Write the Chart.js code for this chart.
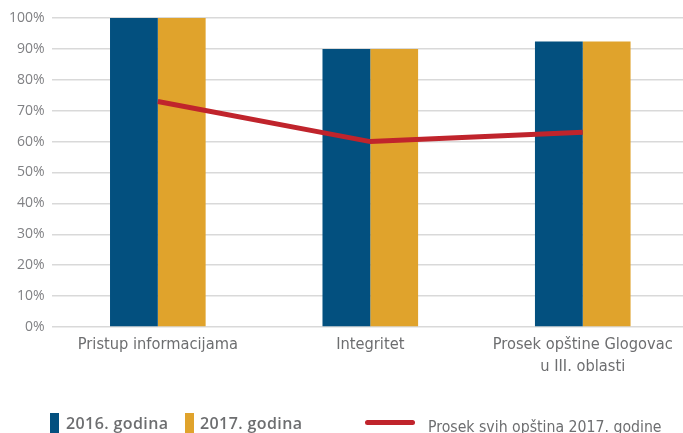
<!DOCTYPE html>
<html>
<head>
<meta charset="utf-8">
<script src="https://cdn.jsdelivr.net/npm/chart.js@4"></script>
<style>
html,body{margin:0;padding:0;background:#fff;}
#wrap{position:relative;width:683px;height:433px;overflow:hidden;}
#chart{position:absolute;left:0;top:0;}
.lg{position:absolute;white-space:nowrap;color:#6d6e70;}
.sw{position:absolute;}
</style>
</head>
<body>
<div id="wrap">
<canvas id="chart" width="689" height="433"></canvas>
<div class="sw" style="left:50px;top:413px;width:9px;height:20px;background:#03507f"></div>
<div class="lg" style="left:66px;top:412px;font:600 16px 'Open Sans',sans-serif;letter-spacing:0.4px">2016. godina</div>
<div class="sw" style="left:185px;top:413px;width:9px;height:20px;background:#e0a32c"></div>
<div class="lg" style="left:200px;top:412px;font:600 16px 'Open Sans',sans-serif;letter-spacing:0.4px">2017. godina</div>
<div class="sw" style="left:365px;top:420px;width:50px;height:5px;border-radius:3px;background:#c0242c"></div>
<div class="lg" id="lineLegend" style="left:428px;line-height:1">Prosek svih opština 2017. godine</div>
</div>
<script>
const categories = ["Pristup informacijama", "Integritet", ["Prosek opštine Glogovac", "u III. oblasti"]];
const values2016 = [100, 90, 92.4];
const values2017 = [100, 90, 92.4];
const averageAll = [73, 60, 63];
const yTicks = [0, 10, 20, 30, 40, 50, 60, 70, 80, 90, 100];

const condFont = "'DejaVu Sans Condensed','Liberation Sans Narrow',sans-serif";

// pick a font size so the condensed text is about as wide as in the picture
const mctx = document.createElement("canvas").getContext("2d");
function fitSize(text, family, width){
  mctx.font = "100px " + family;
  return Math.round(100 * width / mctx.measureText(text).width * 10) / 10;
}
const xSize = fitSize("Pristup informacijama", condFont, 160);
const lgSize = fitSize("Prosek svih opština 2017. godine", condFont, 234);

const lineLegend = document.getElementById("lineLegend");
lineLegend.style.fontFamily = condFont;
lineLegend.style.fontSize = lgSize + "px";
lineLegend.style.top = (432 - 0.85 * lgSize) + "px";

new Chart(document.getElementById("chart"), {
  type: "bar",
  data: {
    labels: categories,
    datasets: [
      {
        type: "line",
        label: "Prosek svih opština 2017. godine",
        data: averageAll,
        borderColor: "#c0242c",
        borderWidth: 5,
        pointRadius: 0,
        fill: false,
        tension: 0,
        order: 0
      },
      {
        label: "2016. godina",
        data: values2016,
        backgroundColor: "#03507f",
        order: 1
      },
      {
        label: "2017. godina",
        data: values2017,
        backgroundColor: "#e0a32c",
        order: 1
      }
    ]
  },
  options: {
    responsive: false,
    animation: false,
    layout: { padding: { left: 2, right: 0, top: 18, bottom: 48 } },
    datasets: { bar: { categoryPercentage: 0.45, barPercentage: 1 } },
    plugins: { legend: { display: false }, tooltip: { enabled: false } },
    scales: {
      x: {
        grid: { display: false, drawTicks: false },
        border: { display: false },
        ticks: {
          padding: 7,
          color: "#6d6e70",
          maxRotation: 0,
          autoSkip: false,
          font: { family: condFont, size: xSize, lineHeight: "22px" }
        }
      },
      y: {
        min: 0,
        max: 100,
        afterBuildTicks: axis => { axis.ticks = yTicks.map(v => ({ value: v })); },
        grid: { color: "#d9d9d9", lineWidth: 1.5, drawTicks: false },
        border: { display: false },
        ticks: {
          padding: 7,
          color: "#808184",
          font: { family: "'Open Sans',sans-serif", size: 14 },
          callback: v => v + "%"
        }
      }
    }
  }
});
</script>
</body>
</html>
